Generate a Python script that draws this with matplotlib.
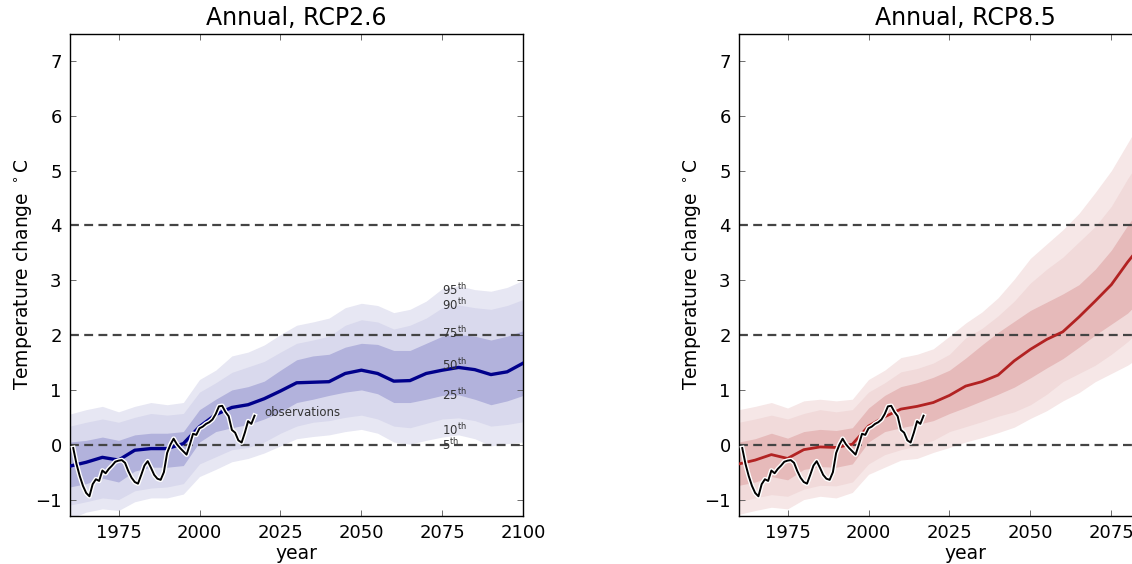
"""Annual temperature change projections, RCP2.6 and RCP8.5 panels."""

import matplotlib

matplotlib.use("Agg")
import matplotlib.pyplot as plt
import matplotlib.patheffects as pe

years = list(range(1960, 2101, 5))

# RCP2.6 percentiles (degC)
rcp26_p5 = [-1.35, -1.23, -1.17, -1.20, -1.04, -0.97, -0.97, -0.90, -0.58, -0.45, -0.31, -0.25, -0.15, -0.02, 0.11,
            0.15, 0.18, 0.24, 0.28, 0.21, 0.05, 0.01, 0.08, 0.14, 0.18, 0.11, -0.02, 0.02, 0.05]
rcp26_p10 = [-1.10, -1.04, -0.97, -1.00, -0.84, -0.79, -0.77, -0.71, -0.35, -0.22, -0.09, -0.05, 0.05, 0.21, 0.34,
             0.41, 0.44, 0.50, 0.54, 0.47, 0.34, 0.31, 0.39, 0.47, 0.49, 0.44, 0.34, 0.37, 0.42]
rcp26_p25 = [-0.77, -0.71, -0.61, -0.68, -0.48, -0.41, -0.41, -0.38, 0.05, 0.24, 0.31, 0.37, 0.47, 0.60, 0.77,
             0.83, 0.90, 0.96, 1.00, 0.93, 0.77, 0.77, 0.83, 0.90, 0.91, 0.83, 0.73, 0.80, 0.90]
rcp26_p50 = [-0.39, -0.32, -0.23, -0.28, -0.10, -0.07, -0.07, 0.02, 0.33, 0.55, 0.68, 0.73, 0.84, 0.98, 1.13,
             1.14, 1.15, 1.30, 1.36, 1.30, 1.16, 1.17, 1.30, 1.36, 1.41, 1.37, 1.28, 1.33, 1.49]
rcp26_p75 = [0.05, 0.08, 0.14, 0.08, 0.18, 0.21, 0.21, 0.24, 0.64, 0.83, 1.00, 1.06, 1.16, 1.36, 1.55,
             1.62, 1.65, 1.78, 1.85, 1.83, 1.72, 1.72, 1.85, 1.98, 2.01, 1.98, 1.91, 1.98, 2.08]
rcp26_p90 = [0.34, 0.41, 0.47, 0.41, 0.50, 0.57, 0.54, 0.57, 0.96, 1.13, 1.32, 1.42, 1.52, 1.69, 1.85,
             1.91, 1.98, 2.18, 2.28, 2.24, 2.11, 2.18, 2.31, 2.50, 2.55, 2.50, 2.47, 2.54, 2.65]
rcp26_p95 = [0.56, 0.64, 0.70, 0.60, 0.70, 0.77, 0.73, 0.77, 1.19, 1.36, 1.62, 1.69, 1.82, 2.01, 2.18,
             2.24, 2.31, 2.50, 2.58, 2.54, 2.41, 2.47, 2.62, 2.85, 2.90, 2.83, 2.80, 2.87, 3.00]

# RCP8.5 percentiles (degC)
rcp85_p5 = [-1.27, -1.20, -1.14, -1.17, -1.00, -0.94, -0.97, -0.87, -0.54, -0.41, -0.28, -0.25, -0.14, -0.05, 0.05,
            0.13, 0.22, 0.32, 0.48, 0.62, 0.80, 0.95, 1.15, 1.30, 1.45, 1.65, 1.85, 2.05, 2.25]
rcp85_p10 = [-1.04, -0.97, -0.91, -0.94, -0.81, -0.74, -0.75, -0.68, -0.35, -0.18, -0.09, -0.02, 0.08, 0.24, 0.33,
             0.42, 0.52, 0.60, 0.73, 0.92, 1.15, 1.30, 1.45, 1.65, 1.88, 2.15, 2.40, 2.65, 2.90]
rcp85_p25 = [-0.74, -0.68, -0.58, -0.64, -0.45, -0.40, -0.41, -0.35, 0.05, 0.24, 0.31, 0.37, 0.44, 0.57, 0.68,
             0.80, 0.92, 1.05, 1.22, 1.40, 1.57, 1.78, 2.00, 2.20, 2.40, 2.70, 3.00, 3.30, 3.60]
rcp85_p50 = [-0.35, -0.28, -0.18, -0.25, -0.09, -0.04, -0.05, 0.01, 0.34, 0.51, 0.65, 0.70, 0.77, 0.90, 1.07,
             1.15, 1.27, 1.53, 1.74, 1.92, 2.06, 2.33, 2.62, 2.92, 3.33, 3.70, 4.05, 4.40, 4.75]
rcp85_p75 = [0.05, 0.11, 0.21, 0.12, 0.24, 0.28, 0.26, 0.31, 0.67, 0.90, 1.06, 1.13, 1.23, 1.36, 1.58,
             1.82, 2.05, 2.25, 2.45, 2.60, 2.75, 2.92, 3.20, 3.55, 4.00, 4.40, 4.80, 5.20, 5.60]
rcp85_p90 = [0.41, 0.47, 0.54, 0.47, 0.57, 0.64, 0.60, 0.64, 0.96, 1.13, 1.33, 1.39, 1.49, 1.65, 1.95,
             2.12, 2.35, 2.62, 2.95, 3.20, 3.42, 3.70, 3.98, 4.35, 4.85, 5.30, 5.70, 6.10, 6.50]
rcp85_p95 = [0.64, 0.70, 0.77, 0.67, 0.80, 0.83, 0.80, 0.83, 1.19, 1.36, 1.59, 1.65, 1.75, 1.98, 2.22,
             2.42, 2.68, 3.02, 3.40, 3.66, 3.92, 4.22, 4.60, 5.00, 5.50, 6.00, 6.40, 6.80, 7.20]

obs_years = list(range(1961, 2018))
obs_values = [-0.06, -0.35, -0.57, -0.75, -0.88, -0.94, -0.72, -0.63, -0.66, -0.47, -0.52, -0.44, -0.38, -0.31,
              -0.29, -0.28, -0.33, -0.48, -0.60, -0.68, -0.71, -0.55, -0.38, -0.30, -0.42, -0.55, -0.62, -0.64,
              -0.50, -0.15, 0.00, 0.11, 0.01, -0.06, -0.12, -0.18, 0.00, 0.20, 0.18, 0.30, 0.33, 0.38, 0.41,
              0.46, 0.56, 0.70, 0.71, 0.60, 0.52, 0.27, 0.22, 0.08, 0.04, 0.22, 0.43, 0.38, 0.53]

pct_names = ["95", "90", "75", "50", "25", "10", "5"]
pct_label_y = [2.83, 2.55, 2.03, 1.46, 0.91, 0.27, 0.0]
threshold_levels = [0, 2, 4]

PANELS = [
    {
        "title": "Annual, RCP2.6",
        "bands": (rcp26_p5, rcp26_p10, rcp26_p25, rcp26_p50, rcp26_p75, rcp26_p90, rcp26_p95),
        "fills": ("#e7e7f3", "#d9d9ed", "#b2b2dc"),
        "line": "#00008b",
        "lw": 2.4,
        "labels": True,
        "rect": [70 / 1132, 48 / 564, 453.3 / 1132, 482.4 / 564],
    },
    {
        "title": "Annual, RCP8.5",
        "bands": (rcp85_p5, rcp85_p10, rcp85_p25, rcp85_p50, rcp85_p75, rcp85_p90, rcp85_p95),
        "fills": ("#f6e7e7", "#f1dada", "#e6baba"),
        "line": "#b22222",
        "lw": 2.0,
        "labels": False,
        "rect": [739 / 1132, 48 / 564, 453.3 / 1132, 482.4 / 564],
    },
]


def draw_panel(fig, panel):
    ax = fig.add_axes(panel["rect"])
    p5, p10, p25, p50, p75, p90, p95 = panel["bands"]
    outer, middle, inner = panel["fills"]
    ax.fill_between(years, p5, p95, color=outer, linewidth=0, zorder=1)
    ax.fill_between(years, p10, p90, color=middle, linewidth=0, zorder=1)
    ax.fill_between(years, p25, p75, color=inner, linewidth=0, zorder=1)
    for level in threshold_levels:
        ax.axhline(level, color="#444444", linewidth=1.6, dashes=(4, 2.4), zorder=2)
    ax.plot(years, p50, color=panel["line"], linewidth=panel["lw"], zorder=3)
    ax.plot(obs_years, obs_values, color="black", linewidth=1.4, zorder=4,
            path_effects=[pe.Stroke(linewidth=3.4, foreground="white"), pe.Normal()])
    if panel["labels"]:
        for name, y in zip(pct_names, pct_label_y):
            ax.text(2075, y, name + r"$^{\rm th}$", fontsize=8.5, color="#333333", ha="left", va="center", zorder=5)
        ax.text(2020, 0.58, "observations", fontsize=8.5, color="#333333", ha="left", va="center", zorder=5)

    ax.set_xlim(1960, 2100)
    ax.set_ylim(-1.3, 7.5)
    ax.set_xticks([1975, 2000, 2025, 2050, 2075, 2100])
    ax.set_yticks(range(-1, 8))
    ax.set_yticklabels(["\u22121"] + [str(v) for v in range(0, 8)])
    ax.tick_params(direction="in", top=True, right=True, length=4, width=0.6, color="#555555",
                   labelsize=13, pad=6)
    for spine in ax.spines.values():
        spine.set_linewidth(1.0)
    ax.set_title(panel["title"], fontsize=17, pad=6)
    ax.set_xlabel("year", fontsize=13.5, labelpad=1)
    ax.set_ylabel(r"Temperature change $^\circ$C", fontsize=13.5, labelpad=1)
    return ax


fig = plt.figure(figsize=(11.32, 5.64), dpi=100)
for panel in PANELS:
    draw_panel(fig, panel)
fig.savefig("out.png", dpi=100, facecolor="white")
plt.close(fig)
